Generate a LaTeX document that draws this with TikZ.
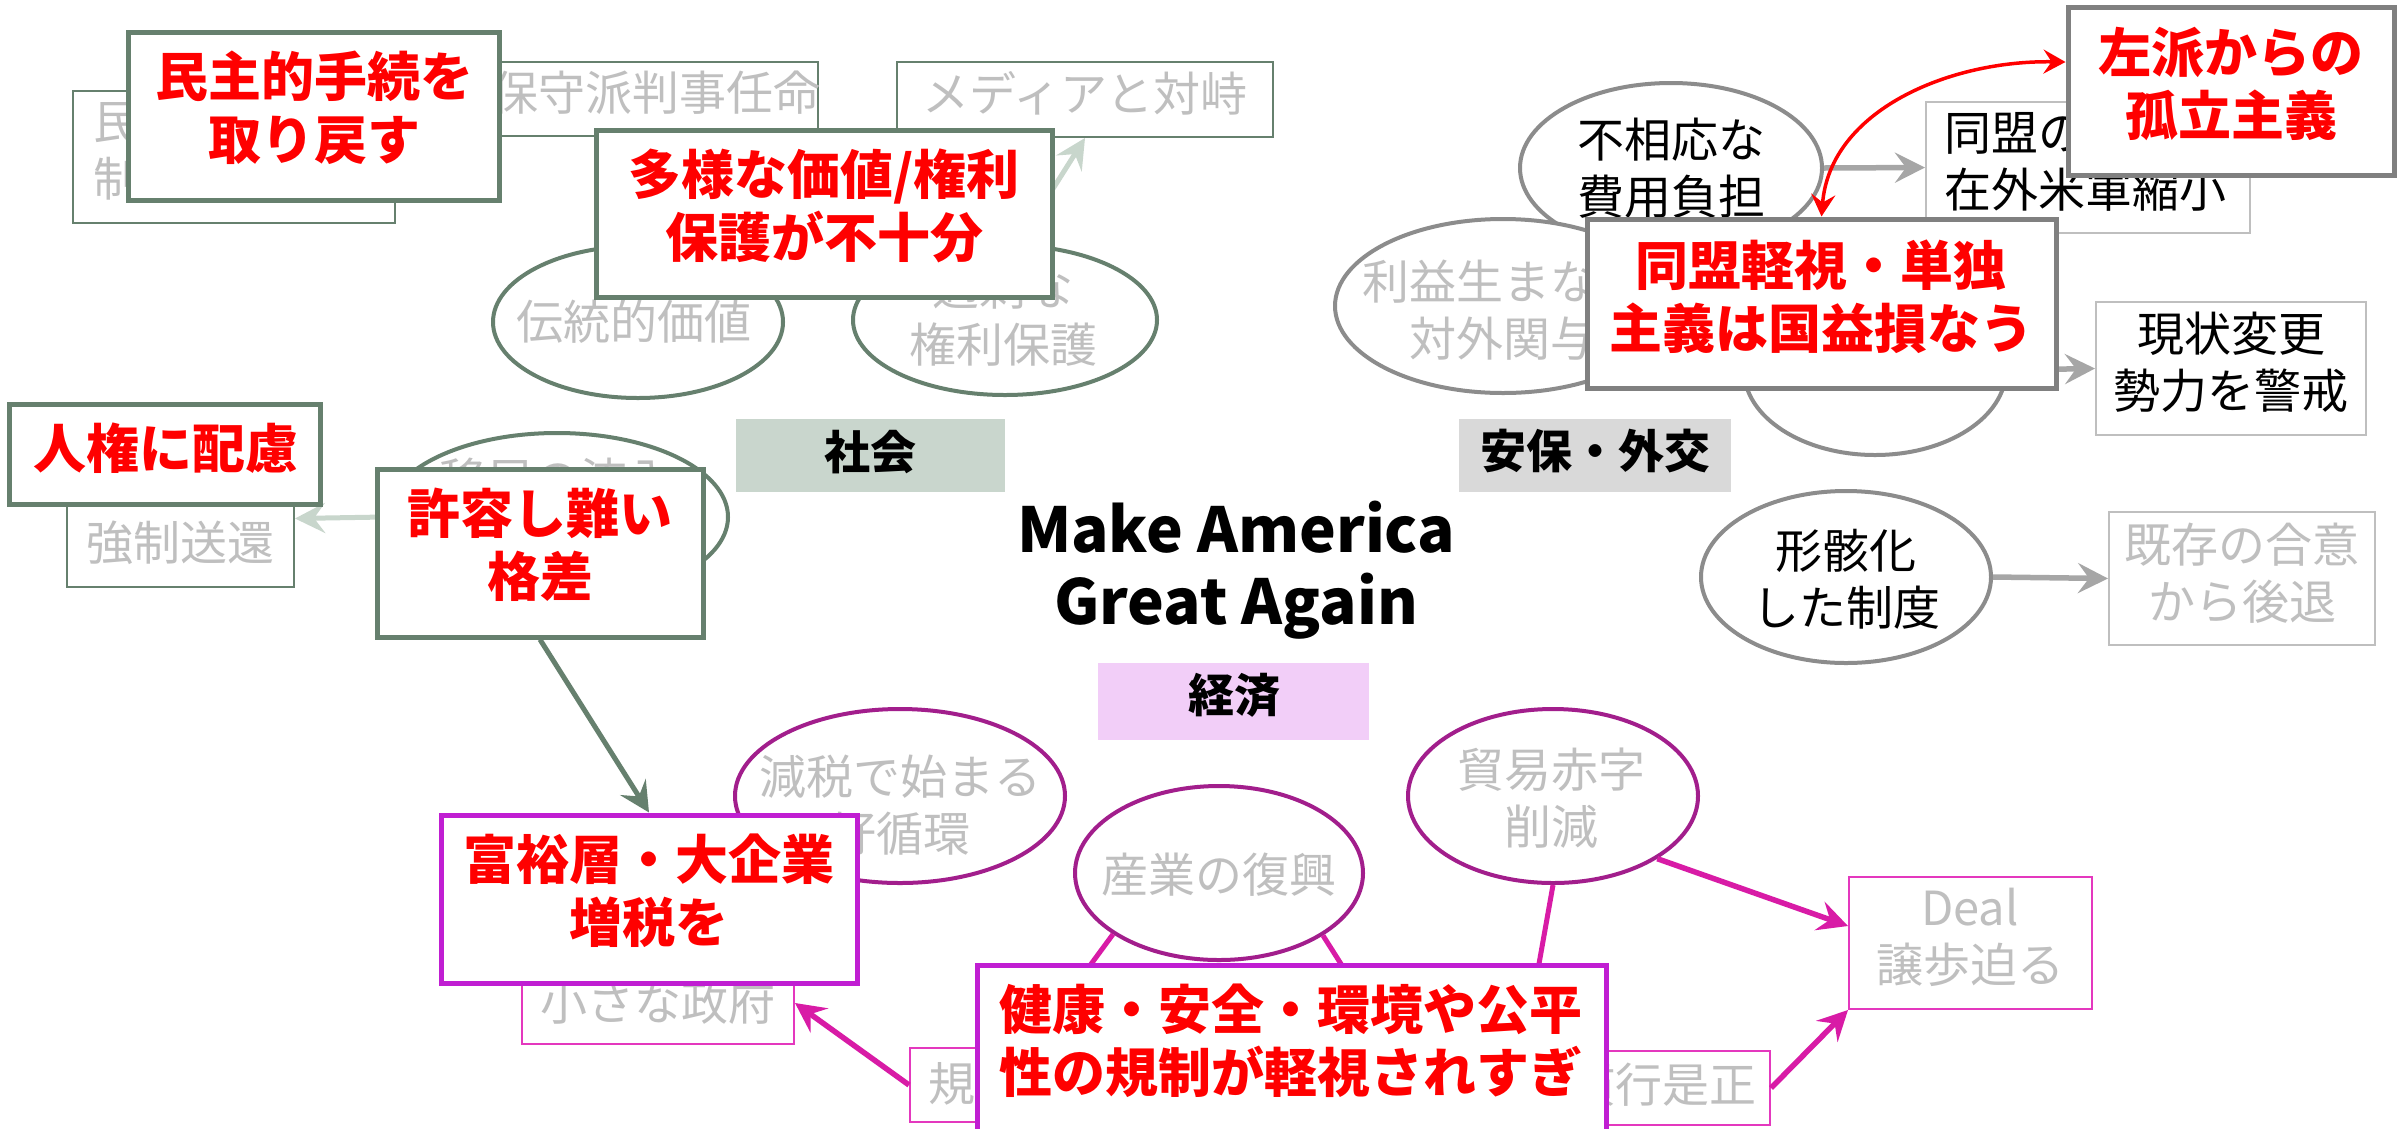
\documentclass[tikz,border=0pt]{standalone}
\usepackage{fontspec}
\setmainfont{Noto Sans CJK JP}
\usetikzlibrary{arrows.meta,shapes.geometric,fit}
\definecolor{sgreen}{RGB}{102,128,110}
\definecolor{sgreenlt}{RGB}{200,214,204}
\definecolor{sfill}{RGB}{201,214,205}
\definecolor{epurple}{RGB}{162,30,140}
\definecolor{emag}{RGB}{192,30,210}
\definecolor{epink}{RGB}{228,56,190}
\definecolor{earrow}{RGB}{216,27,166}
\definecolor{efill}{RGB}{242,206,248}
\definecolor{aell}{RGB}{140,140,140}
\definecolor{abox}{RGB}{128,128,128}
\definecolor{athin}{RGB}{191,191,191}
\definecolor{aarrow}{RGB}{166,166,166}
\definecolor{afill}{RGB}{217,217,217}
\definecolor{txtgray}{RGB}{191,191,191}
\definecolor{pred}{RGB}{255,0,0}
\tikzset{
  redtxt/.style={text=pred,font=\fontsize{53}{63}\selectfont\bfseries,align=center,inner sep=0},
  graytxt/.style={text=txtgray,font=\fontsize{47}{57}\selectfont,align=center,inner sep=0},
  blacktxt/.style={text=black,font=\fontsize{47}{57}\selectfont,align=center,inner sep=0},
  labtxt/.style={text=black,font=\fontsize{46}{54}\selectfont\bfseries,inner sep=0},
  rbox/.style={rectangle,inner sep=0,fill=white},
  thinG/.style={rbox,draw=sgreen,line width=2pt},
  thickG/.style={rbox,draw=sgreen,line width=5pt},
  thinE/.style={rbox,draw=epink,line width=2pt},
  thickE/.style={rbox,draw=emag,line width=5pt},
  thinA/.style={rbox,draw=athin,line width=2pt},
  thickA/.style={rbox,draw=abox,line width=5pt},
  labfillG/.style={rectangle,inner sep=0,fill=sfill},
  labfillE/.style={rectangle,inner sep=0,fill=efill},
  labfillA/.style={rectangle,inner sep=0,fill=afill},
  ellbase/.style={ellipse,inner sep=0,fill=white,line width=4pt},
  ellG/.style={ellbase,draw=sgreen},
  ellE/.style={ellbase,draw=epurple},
  ellA/.style={ellbase,draw=aell},
  tip/.style={-{Stealth[length=30pt,width=30pt,inset=11pt]}},
  arrG/.style={tip,draw=sgreenlt,line width=5pt},
  arrDG/.style={tip,draw=sgreen,line width=5pt},
  arrE/.style={tip,draw=earrow,line width=5.5pt},
  lineE/.style={draw=earrow,line width=5pt},
  arrA/.style={tip,draw=aarrow,line width=5.5pt},
  arrR/.style={{Stealth[length=22pt,width=24pt,inset=8pt]}-{Stealth[length=22pt,width=24pt,inset=8pt]},draw=pred,line width=3.5pt},
}
\begin{document}
\begin{tikzpicture}[x=1pt,y=-1pt]
\useasboundingbox (0,0) rectangle (2408,1128);
\clip (0,0) rectangle (2408,1128);
\fill[white] (0,0) rectangle (2408,1128);

% ---------------- SOCIAL ----------------
\node[thinG, fit={(73,91)(395,223)}] (minbox) {};
\node[graytxt, align=left, anchor=west] (minboxt) at (93,151.5) {民\\制};
\node[thinG, fit={(490,62)(818,136)}] (hoshu) {};
\node[graytxt] (hoshut) at (656,93) {保守派判事任命};
\node[thickG, fit={(128,32)(499,200)}] (minshu) {};
\node[redtxt] (minshut) at (314,108) {民主的手続を\\取り戻す};

\node[thinG, fit={(897,62)(1273,137)}] (media) {};
\node[graytxt] (mediat) at (1085,93) {メディアと対峙};
\node[ellG, minimum width=290, minimum height=152] (dento) at (638,322) {};
\node[graytxt] (dentot) at (634,322) {伝統的価値};
\node[ellG, minimum width=304, minimum height=150] (kajo) at (1005,320) {};
\node[graytxt] (kajot) at (1003,316) {過剰な\\権利保護};
\draw[arrG] (kajo.80) -- (media.south);
\node[thickG, fit={(596,130)(1052,297)}] (tayo) {};
\node[redtxt] (tayot) at (824,206) {多様な価値/権利\\保護が不十分};

\node[labfillG, fit={(736,419)(1005,492)}] (shakai) {};
\node[labtxt] (shakait) at (870,452) {社会};

\node[ellG, minimum width=342, minimum height=168] (imin) at (557,517) {};
\node[graytxt] (imint) at (557,480) {移民の流入};
\node[thinG, fit={(67,450)(294,587)}] (kyosei) {};
\node[graytxt] (kyoseit) at (180,543) {強制送還};
\draw[arrG] (imin.west) -- (kyosei.east);
\node[thickG, fit={(9,404)(320,504)}] (jinken) {};
\node[redtxt] (jinkent) at (166,448) {人権に配慮};
\node[thickG, fit={(377,469)(703,637)}] (kyoyo) {};
\node[redtxt] (kyoyot) at (540,545) {許容し難い\\格差};

% ---------------- ECONOMY ----------------
\node[labfillE, fit={(1098,663)(1369,740)}] (keizai) {};
\node[labtxt] (keizait) at (1234,695) {経済};
\node[ellE, minimum width=330, minimum height=174] (genzei) at (900,796) {};
\node[graytxt] (genzeit) at (900,805) {減税で始まる\\好循環};
\node[ellE, minimum width=288, minimum height=174] (sangyo) at (1219,873) {};
\node[graytxt] (sangyot) at (1219,875) {産業の復興};
\node[ellE, minimum width=290, minimum height=174] (boeki) at (1553,796) {};
\node[graytxt] (boekit) at (1551,798) {貿易赤字\\削減};
\node[thinE, fit={(522,962)(794,1044)}] (chiisana) {};
\node[graytxt] (chiisanat) at (658,1003) {小さな政府};
\node[thinE, fit={(910,1048)(1120,1122)}] (kisei) {};
\node[graytxt, anchor=west] (kiseit) at (928,1084) {規};
\node[thinE, fit={(1550,1051)(1770,1125)}] (kanko) {};
\node[graytxt, anchor=east] (kankot) at (1757,1085) {慣行是正};
\node[thinE, fit={(1849,877)(2092,1009)}] (deal) {};
\node[graytxt] (dealt) at (1970,937) {Deal\\譲歩迫る};

\coordinate (k1) at (1083,975);
\coordinate (k2) at (1348,975);
\coordinate (k3) at (1537,975);
\draw[lineE] (sangyo.210) -- (k1);
\draw[lineE] (sangyo.-31) -- (k2);
\draw[lineE] (boeki.south) -- (k3);
\draw[arrE] (kisei.west) -- (chiisana.east);
\draw[arrE] (kanko.east) -- (deal.south west);
\draw[arrE] (boeki.-31) -- ([yshift=17pt]deal.west);

\node[thickE, fit={(441,815)(857,983)}] (fuyu) {};
\node[redtxt] (fuyut) at (649,891) {富裕層・大企業\\増税を};
\draw[arrDG] (kyoyo.south) -- (fuyu.north);
\node[thickE, fit={(977,965)(1606,1133)}] (kenko) {};
\node[redtxt] (kenkot) at (1291,1041) {健康・安全・環境や公平\\性の規制が軽視されすぎ};

% ---------------- SECURITY ----------------
\node[ellA, minimum width=302, minimum height=170] (futeki) at (1671,168) {};
\node[blacktxt] (futekit) at (1671,168) {不相応な\\費用負担};
\node[ellA, minimum width=336, minimum height=174] (rieki) at (1503,306) {};
\node[graytxt] (riekit) at (1503,310) {利益生まない\\対外関与};
\node[ellA, minimum width=262, minimum height=170] (anpoell) at (1875,370) {};
\node[thinA, fit={(1926,102)(2250,233)}] (domei) {};
\node[blacktxt, align=left, anchor=west] (domeit) at (1944,162) {同盟の\\在外米軍縮小};
\node[thinA, fit={(2096,302)(2366,435)}] (genjo) {};
\node[blacktxt] (genjot) at (2231,362) {現状変更\\勢力を警戒};
\draw[arrA] (futeki.east) -- (domei.west);
\draw[arrA] (anpoell.east) -- (genjo.west);
\node[thickA, fit={(1587,219)(2056,388)}] (keishi) {};
\node[redtxt] (keishit) at (1821,297) {同盟軽視・単独\\主義は国益損なう};
\node[thickA, fit={(2068,7)(2394,175)}] (sahaku) {};
\node[redtxt] (sahakut) at (2231,84) {左派からの\\孤立主義};
\draw[arrR] ([yshift=29pt]sahaku.west) .. controls (1950,60) and (1830,110) .. (keishi.north);

\node[ellA, minimum width=290, minimum height=172] (keigai) at (1846,577) {};
\node[blacktxt] (keigait) at (1846,579) {形骸化\\した制度};
\node[thinA, fit={(2109,512)(2375,645)}] (kizon) {};
\node[graytxt] (kizont) at (2242,573) {既存の合意\\から後退};
\draw[arrA] (keigai.east) -- (kizon.west);
\node[labfillA, fit={(1459,419)(1731,492)}] (anpo) {};
\node[labtxt] (anpot) at (1595,451) {安保・外交};

% ---------------- CENTER ----------------
\node[font=\fontsize{62}{72}\selectfont\bfseries, align=center, inner sep=0] (mega) at (1236,570) {Make America\\Great Again};
\end{tikzpicture}
\end{document}
